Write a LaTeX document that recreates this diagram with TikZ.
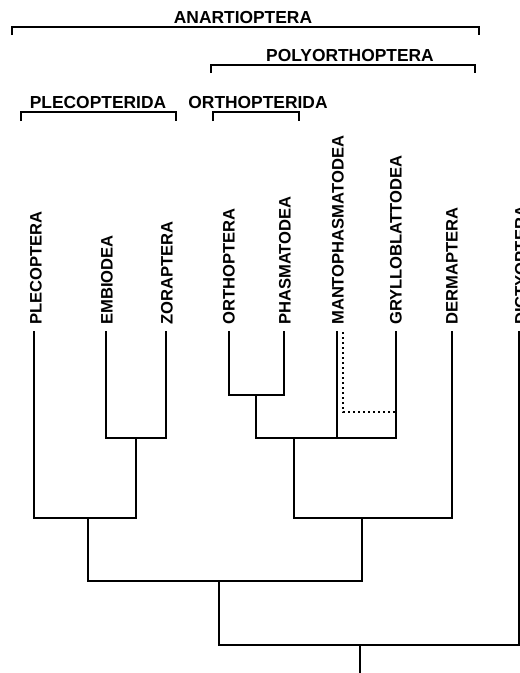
\documentclass[tikz,border=0pt]{standalone}
\usepackage{fontspec}
\setmainfont{Liberation Sans}
\usepackage{tikz}
\usetikzlibrary{calc}
\tikzset{
  base/.style={inner sep=0pt, text=black},
  taxon/.style={base, font=\fontsize{16.6}{17}\selectfont\bfseries, rotate=90, anchor=west},
  clade/.style={base, font=\fontsize{17.4}{18}\selectfont\bfseries, anchor=base},
  branch/.style={line width=2.4pt, draw=black, line cap=rect},
  unsure/.style={branch, dash pattern=on 2.4pt off 2.6pt, line cap=butt},
  brack/.style={line width=2.1pt, draw=black},
}
\begin{document}
\begin{tikzpicture}[x=1pt,y=-1pt]
  \useasboundingbox (0,0) rectangle (520,673);
  \clip (0,0) rectangle (520,673);
  % clade brackets
  \node[clade] (anart) at (243,23) {ANARTIOPTERA};
  \node[clade] (polyo) at (350,61) {POLYORTHOPTERA};
  \node[clade] (pleid) at (98,108) {PLECOPTERIDA};
  \node[clade] (ortid) at (258,108) {ORTHOPTERIDA};
  \draw[brack] (12,35) -- (12,27) -- (479,27) -- (479,35);
  \draw[brack] (211,73) -- (211,65) -- (475,65) -- (475,73);
  \draw[brack] (21,121) -- (21,112) -- (176,112) -- (176,121);
  \draw[brack] (213,121) -- (213,112) -- (299,112) -- (299,121);
  % terminal taxa
  \node[taxon] (ple) at (36,325) {PLECOPTERA};
  \node[taxon] (emb) at (107,325) {EMBIODEA};
  \node[taxon] (zor) at (167,325) {ZORAPTERA};
  \node[taxon] (ort) at (229,325) {ORTHOPTERA};
  \node[taxon] (pha) at (285,325) {PHASMATODEA};
  \node[taxon] (man) at (338,325) {MANTOPHASMATODEA};
  \node[taxon] (gry) at (396,325) {GRYLLOBLATTODEA};
  \node[taxon] (der) at (452,325) {DERMAPTERA};
  \node[taxon] (dic) at (521,325) {DICTYOPTERA};
  \coordinate (tple) at (34,332);
  \coordinate (temb) at (106,332);
  \coordinate (tzor) at (166,332);
  \coordinate (tort) at (229,332);
  \coordinate (tpha) at (284,332);
  \coordinate (tman) at (337,332);
  \coordinate (tmandot) at (343,332);
  \coordinate (tgry) at (396,332);
  \coordinate (tder) at (452,332);
  \coordinate (tdic) at (519,332);
  % internal nodes
  \coordinate (nez) at (136,438);
  \coordinate (npl) at (88,518);
  \coordinate (nop) at (256,395);
  \coordinate (npoly) at (294,438);
  \coordinate (ndot) at (396,412);
  \coordinate (npd) at (362,518);
  \coordinate (nan) at (219,581);
  \coordinate (nroot) at (360,645);
  \coordinate (base) at (360,680);
  % tree
  \draw[branch] (temb) |- (nez) -| (tzor);
  \draw[branch] (tple) |- (npl) -| (nez);
  \draw[branch] (tort) |- (nop) -| (tpha);
  \draw[branch] (nop) |- (npoly) -| (tgry);
  \draw[branch] (tman) -- (tman |- npoly);
  \draw[unsure] (tmandot) |- (ndot);
  \draw[branch] (npoly) |- (npd) -| (tder);
  \draw[branch] (npl) |- (nan) -| (npd);
  \draw[branch] (nan) |- (nroot) -| (tdic);
  \draw[branch] (nroot) -- (base);
\end{tikzpicture}
\end{document}
